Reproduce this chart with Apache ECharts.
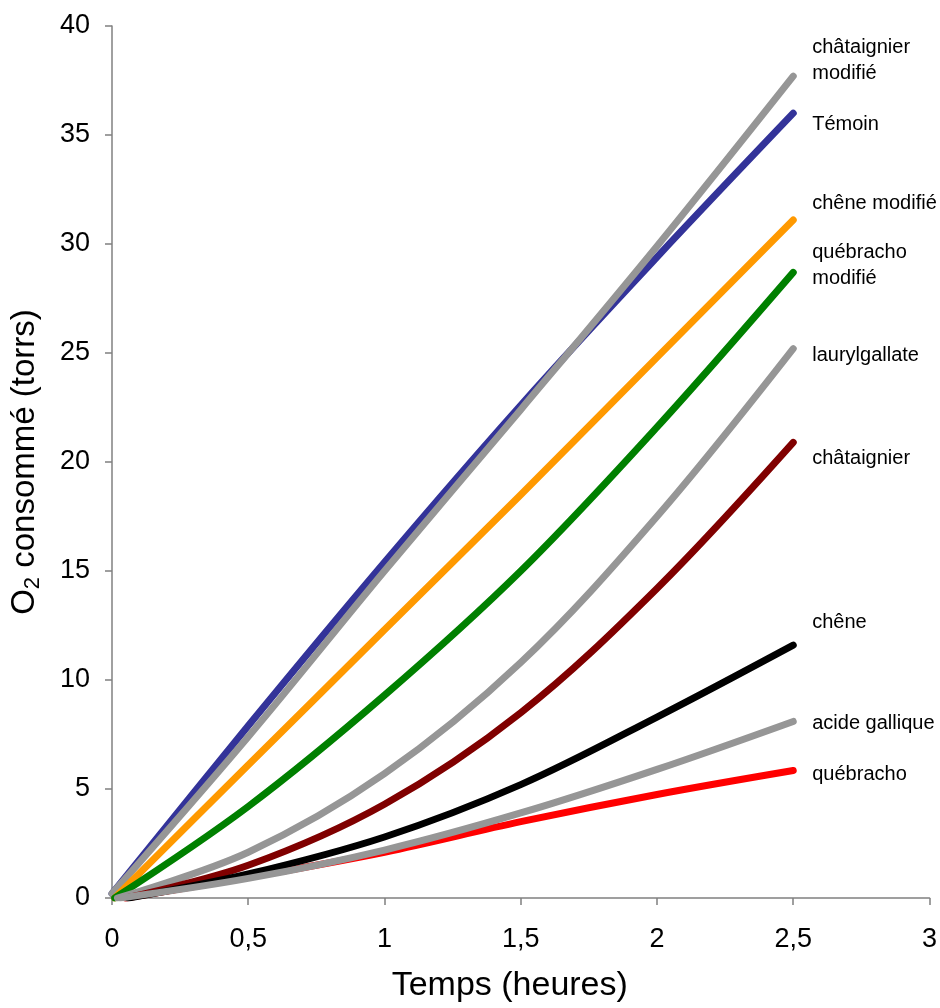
<!DOCTYPE html>
<html>
<head>
<meta charset="utf-8">
<script src="https://cdn.jsdelivr.net/npm/echarts@6/dist/echarts.min.js"></script>
<style>
html,body{margin:0;padding:0;background:#fff;}
#chart{width:940px;height:1008px;}
</style>
</head>
<body>
<div id="chart"></div>
<script>
// Time points (hours); first point of each series is replaced by its start time
const temps = [0, 0.5, 1, 1.5, 2, 2.5];
const debuts = {
  temoin: 0, chataignierModifie: 0, cheneModifie: 0.01, quebrachoModifie: 0.01,
  laurylgallate: 0.02, chataignier: 0.05, chene: 0.06, quebracho: 0.05, acideGallique: 0.03
};
// O2 consumed (torrs)
const temoin             = [0.2, 7.9, 15.4, 22.6, 29.4, 36.0];
const chataignierModifie = [0.2, 7.4, 15.0, 22.4, 29.9, 37.7];
const cheneModifie       = [0, 6.1, 12.3, 18.5, 24.8, 31.1];
const quebrachoModifie   = [0, 4.2, 9.3, 15.0, 21.6, 28.7];
const laurylgallate      = [0, 2.1, 5.7, 10.8, 17.5, 25.2];
const chataignier        = [0, 1.5, 4.3, 8.5, 14.2, 20.9];
const chene              = [0, 1.1, 2.8, 5.2, 8.3, 11.6];
const quebracho          = [0, 0.95, 2.1, 3.5, 4.75, 5.85];
const acideGallique      = [0, 0.9, 2.2, 3.9, 5.9, 8.1];

const xTicks = [0, 0.5, 1, 1.5, 2, 2.5, 3];
const yTicks = [0, 5, 10, 15, 20, 25, 30, 35, 40];

function pts(key, arr) {
  return arr.map((v, i) => [i === 0 ? debuts[key] : temps[i], v]);
}

const defs = [
  {key:'temoin', name:'Témoin', data:temoin, color:'#333399', dy:11},
  {key:'chataignierModifie', name:'châtaignier\nmodifié', data:chataignierModifie, color:'#969696', dy:-16},
  {key:'cheneModifie', name:'chêne modifié', data:cheneModifie, color:'#FF9900', dy:-17},
  {key:'quebrachoModifie', name:'québracho\nmodifié', data:quebrachoModifie, color:'#008000', dy:-7},
  {key:'laurylgallate', name:'laurylgallate', data:laurylgallate, color:'#969696', dy:7},
  {key:'chataignier', name:'châtaignier', data:chataignier, color:'#800000', dy:16},
  {key:'quebracho', name:'québracho', data:quebracho, color:'#FF0000', dy:4},
  {key:'chene', name:'chêne', data:chene, color:'#000000', dy:-23},
  {key:'acideGallique', name:'acide gallique', data:acideGallique, color:'#969696', dy:2}
];

const FONT = '"Liberation Sans", Arial, sans-serif';

const series = defs.map(d => ({
  type: 'line',
  name: d.name,
  data: pts(d.key, d.data),
  smooth: 0.35,
  showSymbol: false,
  symbol: 'none',
  lineStyle: {color: d.color, width: 7, cap: 'round', join: 'round'},
  itemStyle: {color: d.color},
  endLabel: {
    show: true,
    formatter: d.name,
    distance: 19,
    offset: [0, d.dy],
    color: '#000',
    fontFamily: FONT,
    fontSize: 20,
    lineHeight: 26,
    align: 'left'
  },
  emphasis: {disabled: true}
}));

const chart = echarts.init(document.getElementById('chart'), null, {renderer: 'canvas'});
chart.setOption({
  animation: false,
  backgroundColor: '#fff',
  grid: {left: 112, right: 10, top: 26, bottom: 106, containLabel: false},
  xAxis: {
    type: 'value', min: 0, max: 3, interval: 0.5,
    name: 'Temps (heures)', nameLocation: 'middle', nameGap: 71,
    nameTextStyle: {fontFamily: FONT, fontSize: 34, color: '#000', padding: [0, 22, 0, 0]},
    axisLine: {show: true, lineStyle: {color: '#808080', width: 1.5}},
    axisTick: {show: true, inside: false, length: 7, lineStyle: {color: '#808080', width: 1.5}},
    axisLabel: {
      margin: 28, fontFamily: FONT, fontSize: 27, color: '#000',
      formatter: v => String(xTicks.find(t => Math.abs(t - v) < 1e-9) ?? v).replace('.', ',')
    },
    splitLine: {show: false}
  },
  yAxis: {
    type: 'value', min: 0, max: 40, interval: 5,
    name: '{a|O}{b|2}{a| consommé (torrs)}', nameLocation: 'middle', nameGap: 68,
    nameRotate: 90,
    nameTextStyle: {
      fontFamily: FONT, color: '#000',
      rich: {
        a: {fontFamily: FONT, fontSize: 33, color: '#000'},
        b: {fontFamily: FONT, fontSize: 22, color: '#000', verticalAlign: 'bottom', padding: [16, 0, 0, 0]}
      }
    },
    axisLine: {show: true, lineStyle: {color: '#808080', width: 1.5}},
    axisTick: {show: true, inside: false, length: 7, lineStyle: {color: '#808080', width: 1.5}},
    axisLabel: {
      margin: 22, fontFamily: FONT, fontSize: 27, color: '#000',
      formatter: v => String(yTicks.find(t => t === v) ?? v)
    },
    splitLine: {show: false}
  },
  series: series
});
</script>
</body>
</html>
